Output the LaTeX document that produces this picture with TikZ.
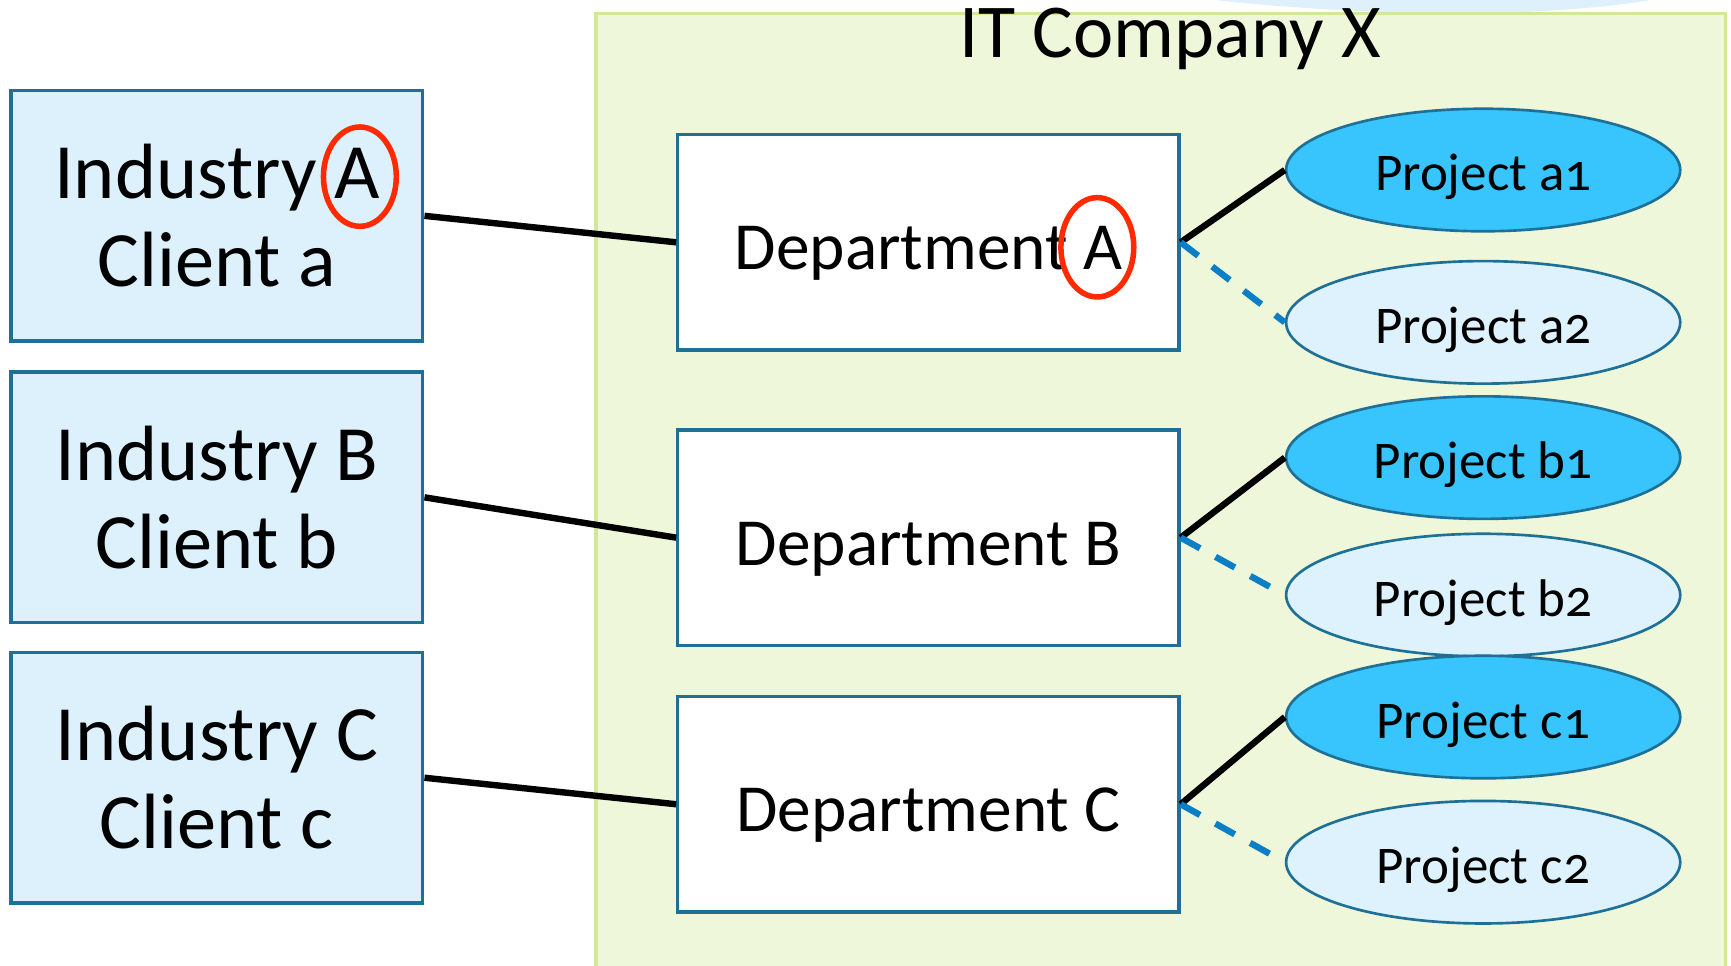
\documentclass[tikz,border=0pt]{standalone}
\usepackage{fontspec}
\setmainfont{Carlito}[Numbers=OldStyle]
\usetikzlibrary{shapes.geometric, positioning}

\definecolor{clientfill}{HTML}{DCF1FC}
\definecolor{boxline}{HTML}{1F7096}
\definecolor{companyfill}{HTML}{EEF7DA}
\definecolor{companyline}{HTML}{D3E897}
\definecolor{projfill}{HTML}{38C4FD}
\definecolor{projlight}{HTML}{DDF2FD}
\definecolor{dashblue}{HTML}{0A7FC5}
\definecolor{ringred}{HTML}{FF2A00}
\definecolor{swoosh}{HTML}{DDF0FB}

\tikzset{
    industry/.style={draw=boxline, line width=1.5pt, fill=clientfill, minimum width=186.5pt, minimum height=113.5pt, align=center, font=\fontsize{35.5}{40}\selectfont},
    dept/.style={draw=boxline, line width=1.5pt, fill=white, minimum width=227pt, minimum height=97.5pt, text height=31pt, text depth=6pt, font=\fontsize{30.5}{36}\selectfont},
    proj/.style={ellipse, draw=boxline, line width=1.2pt, fill=projfill, minimum width=178.5pt, minimum height=55.5pt, inner sep=0pt, text height=24pt, text depth=5pt, font=\fontsize{24}{28}\selectfont},
    projalt/.style={proj, fill=projlight},
    link/.style={line width=2.9pt, black},
    sublink/.style={line width=2.9pt, dashblue, dash pattern=on 10pt off 8pt},
    ring/.style={line width=2.5pt, ringred}
}

\begin{document}
\begin{tikzpicture}[x=0.5pt, y=-0.5pt]
    \clip (0, 0) rectangle (1568, 875);
    \fill[swoosh] (1100, 0) .. controls (1250, 16) and (1400, 16) .. (1495, 0) -- cycle;
    \draw[fill=companyfill, draw=companyline, line width=1.5pt] (540, 12) rectangle (1563, 900);
    \node[anchor=base, font=\fontsize{34.5}{40}\selectfont] (company) at (1060, 52) {IT Company X};

    \node[industry] (indA) at (196.5, 195.5) {Industry A\\Client a};
    \node[industry] (indB) at (196.5, 450.5) {Industry B\\Client b};
    \node[industry] (indC) at (196.5, 704.5) {Industry C\\Client c};

    \node[dept] (depA) at (841, 219.5) {Department A};
    \node[dept] (depB) at (841, 487) {Department B};
    \node[dept] (depC) at (841, 728.5) {Department C};

    \node[proj] (a1) at (1343.5, 154) {Project a1};
    \node[projalt] (a2) at (1343.5, 292) {Project a2};
    \node[proj] (b1) at (1343.5, 414.5) {Project b1};
    \node[projalt] (b2) at (1343.5, 539) {Project b2};
    \node[proj] (c1) at (1343.5, 649.5) {Project c1};
    \node[projalt] (c2) at (1343.5, 781) {Project c2};

    \draw[link] (indA.east) -- (depA.west);
    \draw[link] (indB.east) -- (depB.west);
    \draw[link] (indC.east) -- (depC.west);
    \foreach \d/\p in {depA/a, depB/b, depC/c} {
        \draw[link] (\d.east) -- (\p1.west);
        \draw[sublink] (\d.east) -- (\p2.west);
    }

    % circled letters
    \draw[ring] (326, 160) ellipse [x radius=16.5pt, y radius=22.5pt];
    \draw[ring] (994, 224) ellipse [x radius=16.5pt, y radius=22.5pt];
\end{tikzpicture}
\end{document}
